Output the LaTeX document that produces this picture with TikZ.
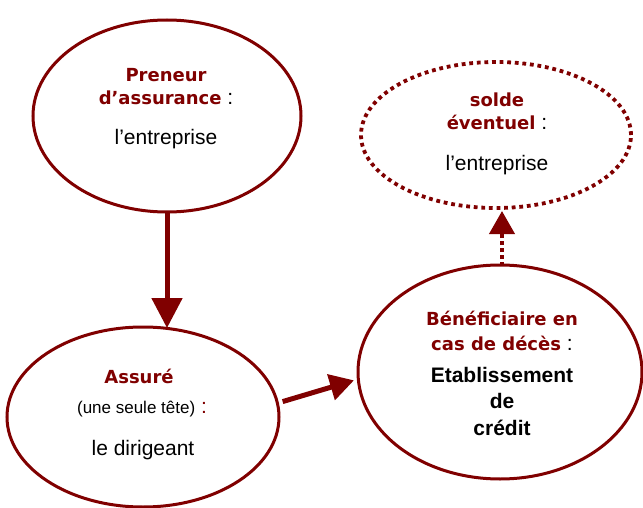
\documentclass[tikz,border=0pt]{standalone}
\usepackage{fontspec}
\setmainfont{Liberation Sans}
\newfontfamily\hdfont{DejaVu Sans}
\usetikzlibrary{shapes.geometric,arrows.meta}
\definecolor{maroon}{RGB}{128,0,0}
\newcommand{\colonblack}{\normalfont\fontsize{21}{24}\selectfont\color{black}\ :}
\tikzset{
  bubble/.style={ellipse,draw=maroon,line width=3pt,inner sep=0pt,fill=white},
  dotbubble/.style={ellipse,draw=maroon,line width=3.8pt,dash pattern=on 3.8pt off 3.8pt,inner sep=0pt},
  head/.style={anchor=base,inner sep=0pt,font=\hdfont\bfseries\fontsize{18}{21}\selectfont,text=maroon},
  body/.style={anchor=base,inner sep=0pt,font=\fontsize{21}{24}\selectfont},
  small/.style={anchor=base,inner sep=0pt,font=\fontsize{17}{20}\selectfont},
  bigarrow/.style={draw=maroon,line width=5pt,-{Triangle[width=30pt,length=30pt]}},
  midarrow/.style={draw=maroon,line width=5pt,-{Triangle[width=26pt,length=24pt]}},
  dotarrow/.style={draw=maroon,line width=4pt,dash pattern=on 4pt off 3pt,-{Triangle[width=25pt,length=23pt]}}
}
\begin{document}
\begin{tikzpicture}[x=1pt,y=-1pt]
\useasboundingbox (0,0) rectangle (643,508);
% ellipses
\node[bubble,minimum width=268pt,minimum height=192pt] (e1) at (167,116) {};
\node[dotbubble,minimum width=270pt,minimum height=146pt] (e2) at (496,135) {};
\node[bubble,minimum width=272pt,minimum height=180pt] (e3) at (143,417) {};
\node[bubble,minimum width=284pt,minimum height=214pt] (e4) at (500,372) {};
% connectors
\coordinate (a1s) at (167,212);
\coordinate (a1e) at (167,328);
\draw[bigarrow] (a1s) -- (a1e);
\draw[midarrow,shorten <=4pt,shorten >=3pt] (e3.6) -- (e4.183);
\coordinate (a3s) at (502,266);
\coordinate (a3e) at (502,211);
\draw[dotarrow] (a3s) -- (a3e);
% texts ellipse 1
\node[head] (t1a) at (166,82) {Preneur};
\node[head] (t1b) at (166,105) {d’assurance\colonblack};
\node[body] (t1c) at (166,145) {l’entreprise};
% texts ellipse 2
\node[head] (t2a) at (497,107) {solde};
\node[head] (t2b) at (497,130) {éventuel\colonblack};
\node[body] (t2c) at (497,171) {l’entreprise};
% texts ellipse 3
\node[head] (t3a) at (139,383) {Assuré};
\node[small] (t3b) at (142,413) {(une seule tête)\fontsize{21}{24}\selectfont\color{maroon}\ :};
\node[body] (t3c) at (143,455) {le dirigeant};
% texts ellipse 4
\node[head] (t4a) at (502,325) {Bénéficiaire en};
\node[head] (t4b) at (502,350) {cas de décès\colonblack};
\node[body,font=\bfseries\fontsize{21}{24}\selectfont] (t4c) at (502,382) {Etablissement};
\node[body,font=\bfseries\fontsize{21}{24}\selectfont] (t4d) at (502,408) {de};
\node[body,font=\bfseries\fontsize{21}{24}\selectfont] (t4e) at (502,435) {crédit};
\end{tikzpicture}
\end{document}
